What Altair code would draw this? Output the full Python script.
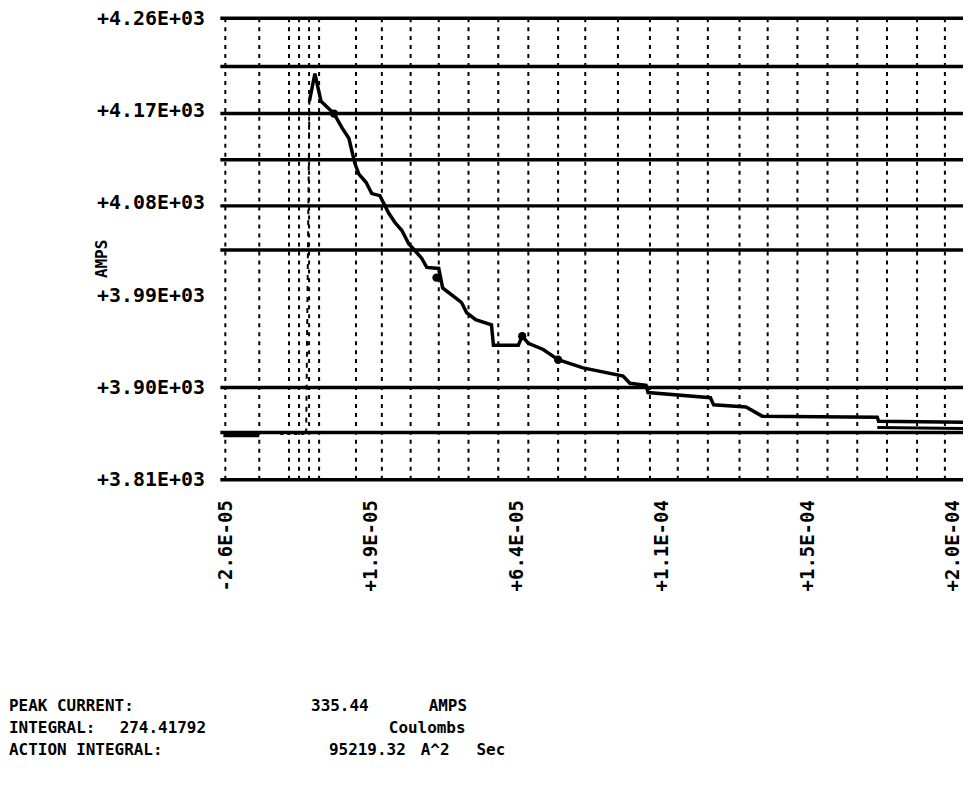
import altair as alt
import pandas as pd

# ---- axis ticks (x in microseconds, y in amps) ----
x_tick_values = [-26, 19, 64, 109, 154, 199]
x_tick_labels = ["-2.6E-05", "+1.9E-05", "+6.4E-05", "+1.1E-04", "+1.5E-04", "+2.0E-04"]
y_tick_values = [4260, 4170, 4080, 3990, 3900, 3810]
y_tick_labels = ["+4.26E+03", "+4.17E+03", "+4.08E+03", "+3.99E+03", "+3.90E+03", "+3.81E+03"]

# ---- grid lines as printed ----
hgrid_values = [4260, 4213, 4167, 4122, 4077, 4034, 3900, 3856, 3810]
vgrid_values = [-26.0, -15.5, -6.3, -3.2, -0.1, 3.0, 14.4, 22.4, 31.3, 40.0, 49.2, 58.4,
                67.7, 76.9, 85.3, 95.4, 105.3, 113.9, 123.2, 133.0, 141.7, 150.9,
                160.2, 169.4, 178.6, 187.9, 196.5]

# ---- trace ----
base_x = [-26.6, -15.5]
base_y = [3853, 3853]
prepulse_x = [-9.0, -1.0]
prepulse_y = [3855, 3855]
rise_x = [-1.0, 0.0]
rise_y = [3855, 4179]
trace_x = [0.0, 1.7, 3.6, 7.6, 10.1, 12.2, 13.1, 14.1, 15.3, 17.5, 19.3, 21.8, 24.5, 26.4,
           28.6, 30.7, 31.9, 34.7, 36.3, 40.0, 41.2, 47.0, 48.6, 51.4, 56.3, 56.9, 64.6,
           65.8, 67.7, 72.3, 76.9, 84.6, 97.0, 99.1, 104.1, 104.7, 124.0, 125.0, 135.0,
           140.0, 175.6, 176.0, 203.0]
trace_y = [4179, 4206, 4179, 4167, 4153, 4143, 4131, 4118, 4108, 4100, 4089, 4087, 4070, 4061,
           4053, 4040, 4036, 4026, 4017, 4016, 3997, 3983, 3973, 3966, 3961, 3941, 3941,
           3950, 3943, 3937, 3927, 3919, 3911, 3904, 3902, 3895, 3890, 3883, 3881,
           3872, 3871, 3867, 3866]
tail_x = [175.6, 203.0]
tail_y = [3861, 3860]
blob_x = [7.6, 39.3, 65.8, 76.9]
blob_y = [4167, 4007, 3950, 3927]

summary_line1 = ["PEAK CURRENT:", "335.44", "AMPS"]
summary_line2 = ["INTEGRAL:", "274.41792", "Coulombs"]
summary_line3 = ["ACTION INTEGRAL:", "95219.32", "A^2", "Sec"]

FONT = "DejaVu Sans Mono"
X_DOMAIN = [-27.54, 202.1]
Y_DOMAIN = [3810, 4260]

xs = alt.Scale(domain=X_DOMAIN, nice=False, zero=False)
ys = alt.Scale(domain=Y_DOMAIN, nice=False, zero=False)

x_label_expr = "{}[round((datum.value - ({}))/45)]".format(
    "[" + ",".join("'%s'" % s for s in x_tick_labels) + "]", x_tick_values[0])
y_label_expr = "{}[round(({} - datum.value)/90)]".format(
    "[" + ",".join("'%s'" % s for s in y_tick_labels) + "]", y_tick_values[0])

x_axis = alt.Axis(values=x_tick_values, labelExpr=x_label_expr, title=None,
                  grid=False, ticks=False, domain=False, orient="bottom",
                  labelFont=FONT, labelFontSize=19, labelFontWeight="bold",
                  labelColor="black", labelAngle=270, labelAlign="right",
                  labelBaseline="middle", labelPadding=20)
y_axis = alt.Axis(values=y_tick_values, labelExpr=y_label_expr, title="AMPS",
                  grid=False, ticks=False, domain=False,
                  labelFont=FONT, labelFontSize=20, labelFontWeight="bold",
                  labelColor="black", labelPadding=16, labelBaseline="middle",
                  titleFont=FONT, titleFontSize=16, titleFontWeight="bold",
                  titleColor="black", titleAngle=270, titleAlign="center",
                  titleBaseline="middle", titleX=-119, titleY=241)

XE = lambda f="x:Q": alt.X(f, scale=xs, axis=x_axis)
YE = lambda f="y:Q": alt.Y(f, scale=ys, axis=y_axis)


def line_layer(xv, yv, width=3.5, dash=None):
    df = pd.DataFrame({"x": xv, "y": yv, "i": list(range(len(xv)))})
    kw = dict(color="black", strokeWidth=width, clip=True)
    if dash:
        kw["strokeDash"] = dash
    return alt.Chart(df).mark_line(**kw).encode(x=XE(), y=YE(), order="i:Q")


hgrid = alt.Chart(pd.DataFrame({"y": hgrid_values})).mark_rule(
    color="black", strokeWidth=3.5).encode(y=YE())

vgrid = alt.Chart(pd.DataFrame({"x": vgrid_values})).mark_rule(
    color="black", strokeWidth=2, strokeDash=[4, 5]).encode(x=XE())

blobs = alt.Chart(pd.DataFrame({"x": blob_x, "y": blob_y})).mark_circle(
    color="black", size=70, opacity=1, clip=True).encode(x=XE(), y=YE())

layers = [
    hgrid,
    vgrid,
    line_layer(base_x, base_y, 3.5),
    line_layer(prepulse_x, prepulse_y, 3, [3, 4]),
    line_layer(rise_x, rise_y, 2, [5, 6]),
    line_layer(trace_x, trace_y, 3.5),
    line_layer(tail_x, tail_y, 3),
    blobs,
]


def text_layer(t, px, py):
    return alt.Chart(pd.DataFrame({"t": [t]})).mark_text(
        font=FONT, fontSize=16, fontWeight="bold", color="black",
        align="left", baseline="alphabetic").encode(
        x=alt.value(px), y=alt.value(py), text="t:N")


# positions relative to plot origin
row_y = [695, 717, 739]
for t, px in zip(summary_line1, [-212, 91, 209]):
    layers.append(text_layer(t, px, row_y[0]))
for t, px in zip(summary_line2, [-212, -101, 169]):
    layers.append(text_layer(t, px, row_y[1]))
for t, px in zip(summary_line3, [-212, 109, 201, 257]):
    layers.append(text_layer(t, px, row_y[2]))

chart = alt.layer(*layers).properties(
    width=745, height=463,
    autosize=alt.AutoSizeParams(type="none"),
    padding={"left": 213, "top": 9, "right": 0, "bottom": 300},
    background="white",
).configure_view(stroke=None)

chart.save("out.html", embed_options={"renderer": "svg", "actions": False})
